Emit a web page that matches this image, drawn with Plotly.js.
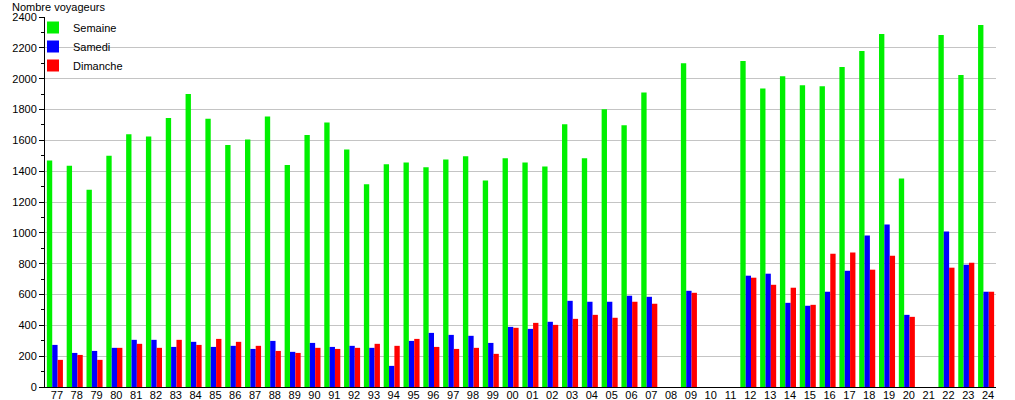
<!DOCTYPE html>
<html>
<head>
<meta charset="utf-8">
<script src="https://cdn.plot.ly/plotly-3.0.1.min.js"></script>
<style>html,body{margin:0;padding:0;background:#fff;}#chart{width:1015px;height:400px;}</style>
</head>
<body>
<div id="chart"></div>
<script>
const categories = ['77','78','79','80','81','82','83','84','85','86','87','88','89','90','91','92','93','94','95','96','97','98','99',
  '00','01','02','03','04','05','06','07','08','09','10','11','12','13','14','15','16','17','18','19','20','21','22','23','24'];
const semaine = [1470,1435,1280,1500,1640,1625,1745,1900,1740,1570,1605,1755,1440,1635,1715,1540,1315,1445,1457,1425,1476,1496,1340,
  1483,1457,1431,1704,1483,1802,1698,1910,null,2100,null,null,2114,1936,2016,1958,1951,2075,2179,2289,1353,null,2283,2023,2348];
const samedi = [273,221,234,254,306,306,260,293,260,267,247,299,228,286,260,267,254,137,299,351,338,332,286,
  390,377,423,559,553,553,592,585,null,624,null,null,722,735,546,527,618,754,982,1054,468,null,1008,793,618];
const dimanche = [176,208,176,254,280,254,306,273,312,293,267,234,221,254,247,254,280,267,312,260,247,254,215,
  384,416,403,442,468,449,553,540,null,611,null,null,709,663,644,533,865,872,761,852,455,null,774,806,618];
const seriesNames = ['Semaine','Samedi','Dimanche'];
const yTitle = 'Nombre voyageurs';

const colors = ['#00f000','#0000ff','#ff0000'];
const data = [semaine, samedi, dimanche].map((vals, i) => ({
  type: 'bar', x: categories, y: vals, name: seriesNames[i],
  marker: {color: colors[i], line: {width: 0}}, hoverinfo: 'x+y+name'
}));

const font = {family: '"Liberation Sans", Arial, sans-serif', size: 11, color: '#000'};
const layout = {
  width: 1015, height: 400,
  margin: {l: 45, r: 19, t: 17, b: 13, pad: 0},
  paper_bgcolor: '#fff', plot_bgcolor: '#fff',
  font: font,
  barmode: 'group', bargap: 0.19, bargroupgap: 0,
  title: {text: yTitle, font: font, xref: 'container', yref: 'container', x: 12/1015, xanchor: 'left', y: 1 - 7/400, yanchor: 'middle'},
  showlegend: true,
  legend: {x: -12/951, y: 1 + 4/370, xanchor: 'left', yanchor: 'top', bgcolor: 'rgba(0,0,0,0)', font: font, traceorder: 'normal', itemclick: false},
  xaxis: {type: 'category', categoryorder: 'array', categoryarray: categories, range: [-0.5, categories.length - 0.5],
    showline: true, linecolor: '#000', linewidth: 1, ticks: '', showgrid: false, zeroline: false,
    tickfont: font, ticklabelshift: 2, ticklabelstandoff: -2, fixedrange: true},
  yaxis: {range: [0, 2400], dtick: 200, tick0: 0, showline: true, linecolor: '#000', linewidth: 1,
    ticks: 'outside', ticklen: 5, tickcolor: '#000', showgrid: true, gridcolor: '#c4c4c4', gridwidth: 1,
    zeroline: false, tickfont: font,
    minor: {dtick: 100, ticks: 'outside', ticklen: 3, tickcolor: '#000', showgrid: false}, fixedrange: true}
};
Plotly.newPlot('chart', data, layout, {displayModeBar: false, staticPlot: true});
</script>
</body>
</html>
